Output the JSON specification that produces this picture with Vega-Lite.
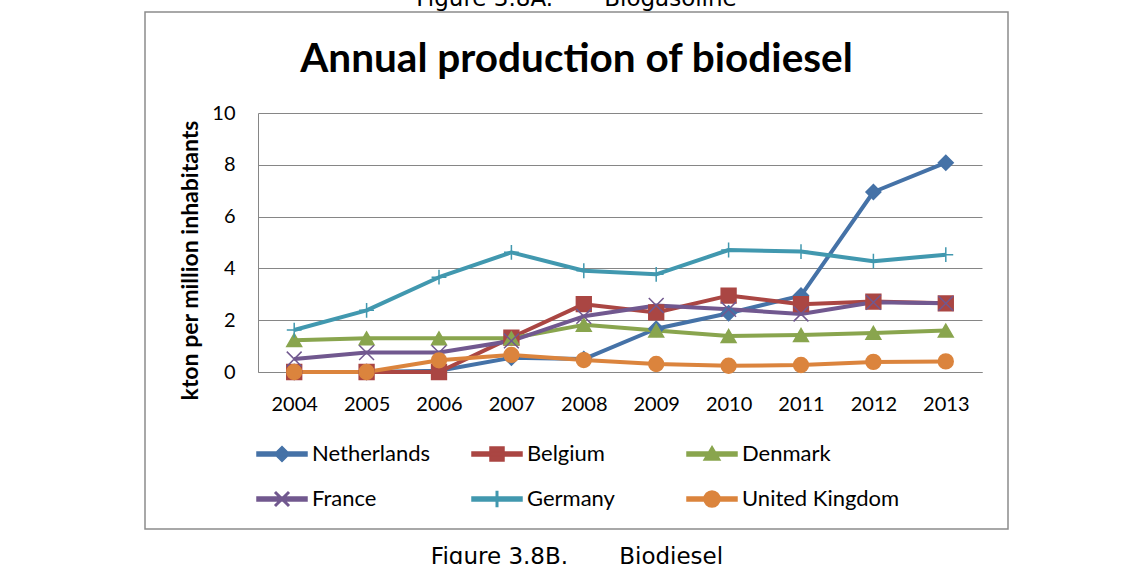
{
  "$schema": "https://vega.github.io/schema/vega-lite/v6.json",
  "autosize": "none",
  "width": 863,
  "height": 517,
  "padding": {"left": 145, "top": 12, "right": 122, "bottom": 35},
  "background": "white",
  "config": {
    "view": {"stroke": "#8c8c8c", "strokeWidth": 1.5}
  },
  "title": {
    "text": "Figure 3.8A.\u00a0\u00a0\u00a0\u00a0\u00a0\u00a0\u00a0Biogasoline",
    "subtitle": "Annual production of biodiesel",
    "anchor": "middle",
    "frame": "group",
    "font": "DejaVu Sans",
    "fontSize": 23,
    "fontWeight": "normal",
    "color": "black",
    "subtitleFont": "Lato",
    "subtitleFontSize": 40.5,
    "subtitleFontWeight": "bold",
    "subtitleColor": "black",
    "subtitlePadding": 29,
    "offset": -68
  },
  "data": {
    "values": [
      {"year": "2004", "country": "Netherlands", "value": 0},
      {"year": "2005", "country": "Netherlands", "value": 0},
      {"year": "2006", "country": "Netherlands", "value": 0.05},
      {"year": "2007", "country": "Netherlands", "value": 0.55},
      {"year": "2008", "country": "Netherlands", "value": 0.5},
      {"year": "2009", "country": "Netherlands", "value": 1.67},
      {"year": "2010", "country": "Netherlands", "value": 2.27},
      {"year": "2011", "country": "Netherlands", "value": 2.95},
      {"year": "2012", "country": "Netherlands", "value": 6.95},
      {"year": "2013", "country": "Netherlands", "value": 8.08},
      {"year": "2004", "country": "Belgium", "value": 0},
      {"year": "2005", "country": "Belgium", "value": 0},
      {"year": "2006", "country": "Belgium", "value": 0},
      {"year": "2007", "country": "Belgium", "value": 1.33},
      {"year": "2008", "country": "Belgium", "value": 2.62},
      {"year": "2009", "country": "Belgium", "value": 2.3},
      {"year": "2010", "country": "Belgium", "value": 2.95},
      {"year": "2011", "country": "Belgium", "value": 2.62},
      {"year": "2012", "country": "Belgium", "value": 2.72},
      {"year": "2013", "country": "Belgium", "value": 2.65},
      {"year": "2004", "country": "Denmark", "value": 1.23},
      {"year": "2005", "country": "Denmark", "value": 1.3},
      {"year": "2006", "country": "Denmark", "value": 1.3},
      {"year": "2007", "country": "Denmark", "value": 1.3},
      {"year": "2008", "country": "Denmark", "value": 1.82},
      {"year": "2009", "country": "Denmark", "value": 1.6},
      {"year": "2010", "country": "Denmark", "value": 1.39},
      {"year": "2011", "country": "Denmark", "value": 1.43},
      {"year": "2012", "country": "Denmark", "value": 1.51},
      {"year": "2013", "country": "Denmark", "value": 1.6},
      {"year": "2004", "country": "France", "value": 0.5},
      {"year": "2005", "country": "France", "value": 0.75},
      {"year": "2006", "country": "France", "value": 0.75},
      {"year": "2007", "country": "France", "value": 1.2},
      {"year": "2008", "country": "France", "value": 2.15},
      {"year": "2009", "country": "France", "value": 2.57},
      {"year": "2010", "country": "France", "value": 2.42},
      {"year": "2011", "country": "France", "value": 2.24},
      {"year": "2012", "country": "France", "value": 2.69},
      {"year": "2013", "country": "France", "value": 2.65},
      {"year": "2004", "country": "Germany", "value": 1.62},
      {"year": "2005", "country": "Germany", "value": 2.38},
      {"year": "2006", "country": "Germany", "value": 3.66},
      {"year": "2007", "country": "Germany", "value": 4.62},
      {"year": "2008", "country": "Germany", "value": 3.91},
      {"year": "2009", "country": "Germany", "value": 3.77},
      {"year": "2010", "country": "Germany", "value": 4.71},
      {"year": "2011", "country": "Germany", "value": 4.65},
      {"year": "2012", "country": "Germany", "value": 4.28},
      {"year": "2013", "country": "Germany", "value": 4.53},
      {"year": "2004", "country": "United Kingdom", "value": 0},
      {"year": "2005", "country": "United Kingdom", "value": 0},
      {"year": "2006", "country": "United Kingdom", "value": 0.45},
      {"year": "2007", "country": "United Kingdom", "value": 0.66},
      {"year": "2008", "country": "United Kingdom", "value": 0.46},
      {"year": "2009", "country": "United Kingdom", "value": 0.31},
      {"year": "2010", "country": "United Kingdom", "value": 0.24},
      {"year": "2011", "country": "United Kingdom", "value": 0.27},
      {"year": "2012", "country": "United Kingdom", "value": 0.39},
      {"year": "2013", "country": "United Kingdom", "value": 0.41}
    ]
  },
  "encoding": {
    "x": {
      "field": "year",
      "type": "ordinal",
      "scale": {"type": "point", "range": [113, 837], "padding": 0.5},
      "axis": {
        "orient": "bottom",
        "offset": -157,
        "domain": true,
        "domainColor": "#868686",
        "domainWidth": 1,
        "ticks": false,
        "grid": false,
        "labelAngle": 0,
        "labelFont": "Lato",
        "labelFontSize": 20,
        "labelColor": "black",
        "labelPadding": 22,
        "title": "Figure 3.8B.\u00a0\u00a0\u00a0\u00a0\u00a0\u00a0\u00a0Biodiesel",
        "titleFont": "DejaVu Sans",
        "titleFontSize": 23,
        "titleFontWeight": "normal",
        "titleColor": "black",
        "titleX": 431.5,
        "titleY": 191,
        "titleAlign": "center",
        "titleBaseline": "alphabetic"
      }
    },
    "y": {
      "field": "value",
      "type": "quantitative",
      "scale": {"domain": [0, 10], "range": [360, 101], "nice": false},
      "axis": {
        "orient": "left",
        "offset": -113,
        "values": [0, 2, 4, 6, 8, 10],
        "domain": true,
        "domainColor": "#868686",
        "domainWidth": 1,
        "ticks": false,
        "grid": true,
        "gridColor": "#868686",
        "gridWidth": 1,
        "labelFont": "Lato",
        "labelFontSize": 20,
        "labelColor": "black",
        "labelPadding": 23,
        "title": "kton per million inhabitants",
        "titleFont": "Lato",
        "titleFontSize": 23,
        "titleFontWeight": "bold",
        "titleColor": "black",
        "titleAngle": 270,
        "titleX": -68,
        "titleY": 248,
        "titleAlign": "center",
        "titleBaseline": "middle"
      }
    }
  },
  "layer": [
    {
      "mark": {"type": "line", "strokeWidth": 4, "strokeJoin": "round"},
      "encoding": {
        "color": {
          "field": "country",
          "type": "nominal",
          "scale": {
            "domain": ["Netherlands", "Belgium", "Denmark", "France", "Germany", "United Kingdom"],
            "range": ["#4572A7", "#AA4643", "#89A54E", "#71588F", "#4198AF", "#DB843D"]
          }
        }
      }
    },
    {
      "mark": {"type": "point", "filled": true, "opacity": 1, "size": 220, "strokeWidth": 1.5},
      "encoding": {
        "color": {
          "field": "country",
          "type": "nominal",
          "scale": {
            "domain": ["Netherlands", "Belgium", "Denmark", "France", "Germany", "United Kingdom"],
            "range": ["#4572A7", "#AA4643", "#89A54E", "#71588F", "#4198AF", "#DB843D"]
          },
          "legend": {
            "title": null,
            "orient": "none",
            "legendX": 111,
            "legendY": 431,
            "direction": "horizontal",
            "columns": 3,
            "gridAlign": "all",
            "columnPadding": -1,
            "rowPadding": 23,
            "labelFont": "Lato",
            "labelFontSize": 22,
            "labelColor": "black",
            "labelOffset": 34,
            "labelLimit": 0,
            "symbolSize": 400,
            "symbolStrokeWidth": 1.5,
            "symbolOpacity": 1,
            "encode": {
              "symbols": {
                "update": {
                  "shape": {"signal": "datum.value === 'Netherlands' ? 'M-1,-0.2H4V0.2H-1ZM1.5,-0.75L2.25,0L1.5,0.75L0.75,0Z' : datum.value === 'Belgium' ? 'M-1,-0.2H4V0.2H-1ZM0.8,-0.7H2.2V0.7H0.8Z' : datum.value === 'Denmark' ? 'M-1,-0.2H4V0.2H-1ZM1.5,-0.75L2.3,0.6L0.7,0.6Z' : datum.value === 'France' ? 'M-1,-0.2H4V0.2H-1ZM0.903,-0.703L2.203,0.597L2.097,0.703L0.797,-0.597ZM0.797,0.597L2.097,-0.703L2.203,-0.597L0.903,0.703Z' : datum.value === 'Germany' ? 'M-1,-0.2H4V0.2H-1ZM1.425,-0.75H1.575V0.75H1.425Z' : 'M-1,-0.2H4V0.2H-1ZM0.7,0A0.8,0.8 0 1,1 2.3,0A0.8,0.8 0 1,1 0.7,0Z'"},
                  "fill": {"signal": "scale('color', datum.value)"},
                  "stroke": {"signal": "scale('color', datum.value)"}
                }
              }
            }
          }
        },
        "shape": {
          "field": "country",
          "type": "nominal",
          "scale": {
            "domain": ["United Kingdom", "Germany", "France", "Denmark", "Belgium", "Netherlands"],
            "range": ["circle", "M0,-1V1M-1,0H1", "M-1,-1L1,1M-1,1L1,-1", "triangle-up", "square", "diamond"]
          },
          "legend": null
        },
        "stroke": {
          "field": "country",
          "type": "nominal",
          "scale": {
            "domain": ["United Kingdom", "Germany", "France", "Denmark", "Belgium", "Netherlands"],
            "range": ["#DB843D", "#4198AF", "#71588F", "#89A54E", "#AA4643", "#4572A7"]
          },
          "legend": null
        }
      }
    }
  ]
}
